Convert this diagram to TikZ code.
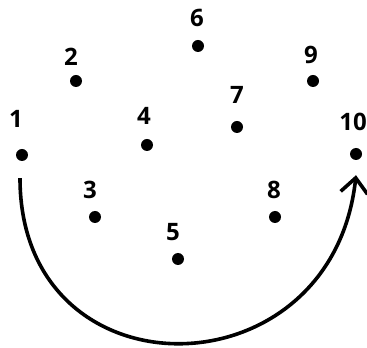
\documentclass[tikz,border=0pt]{standalone}
\usepackage{fontspec}
\setmainfont{Open Sans}
\usetikzlibrary{arrows.meta, positioning}

\begin{document}
\begin{tikzpicture}[x=1pt, y=1pt, node distance=13pt,
	dot/.style={circle, fill, inner sep=0pt, minimum size=12pt},
	num/.style={inner sep=0pt, font=\bfseries\fontsize{24}{24}\selectfont},
	>={Straight Barb[length=15pt, width=27pt]}]
	\useasboundingbox (0,0) rectangle (367,348);
	% dots
	\node[dot] (d1) at (22,193) {};
	\node[dot] (d2) at (76,267) {};
	\node[dot] (d3) at (95,131) {};
	\node[dot] (d4) at (147,203) {};
	\node[dot] (d5) at (178,89) {};
	\node[dot] (d6) at (198,302) {};
	\node[dot] (d7) at (237,221) {};
	\node[dot] (d8) at (275,131) {};
	\node[dot] (d9) at (313,267) {};
	\node[dot] (d10) at (356,194) {};
	% numbers
	\node[num, above=21pt of d1, xshift=-6pt] (n1) {1};
	\node[num, above=9pt of d2, xshift=-5pt] (n2) {2};
	\node[num, above=12pt of d3, xshift=-5pt] (n3) {3};
	\node[num, above=14pt of d4, xshift=-3pt] (n4) {4};
	\node[num, above=12pt of d5, xshift=-5pt] (n5) {5};
	\node[num, above=13pt of d6, xshift=-1pt] (n6) {6};
	\node[num, above=17pt of d7] (n7) {7};
	\node[num, above=12pt of d8, xshift=-1pt] (n8) {8};
	\node[num, above=11pt of d9, xshift=-2pt] (n9) {9};
	\node[num, above=17pt of d10, xshift=-3pt] (n10) {10};
	% loop from 1 to 10
	\coordinate[below=17pt of d1, xshift=-2pt] (s);
	\coordinate[below=15pt of d10] (e);
	\draw[->, line width=3.6pt] (s) .. controls +(0,-222) and +(-24,-222) .. (e);
\end{tikzpicture}
\end{document}
